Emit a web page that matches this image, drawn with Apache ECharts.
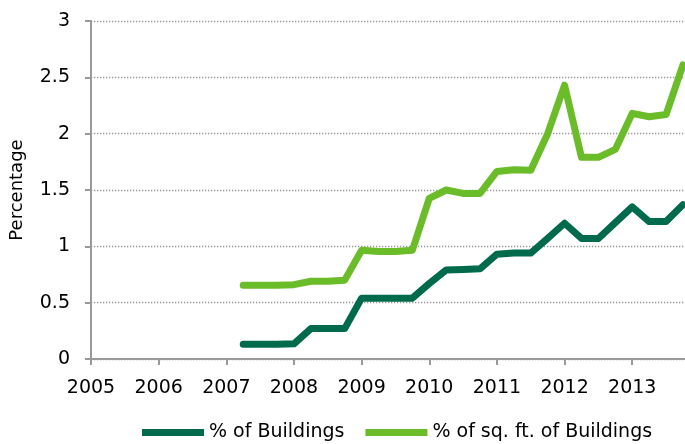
<!doctype html>
<html>
	<head>
		<meta charset="utf-8">
		<title>Buildings chart</title>
	</head>
	<body style="margin:0">
		<div id="container" style="height: 444px; width: 685px;"></div>

		<script src="https://cdn.jsdelivr.net/npm/echarts@6/dist/echarts.min.js"></script>

		<script>
			// quarters, as fractional years
			var quarters = [2007.25, 2007.5, 2007.75, 2008, 2008.25, 2008.5, 2008.75,
				2009, 2009.25, 2009.5, 2009.75, 2010, 2010.25, 2010.5, 2010.75,
				2011, 2011.25, 2011.5, 2011.75, 2012, 2012.25, 2012.5, 2012.75,
				2013, 2013.25, 2013.5, 2013.75];
			var pctBuildings = [0.13, 0.13, 0.13, 0.135, 0.27, 0.27, 0.27,
				0.54, 0.54, 0.54, 0.54, 0.67, 0.79, 0.795, 0.8,
				0.93, 0.94, 0.94, 1.07, 1.205, 1.07, 1.07, 1.21,
				1.35, 1.22, 1.22, 1.37];
			var pctSqft = [0.655, 0.655, 0.655, 0.66, 0.69, 0.69, 0.70,
				0.965, 0.955, 0.955, 0.965, 1.425, 1.50, 1.47, 1.47,
				1.665, 1.68, 1.675, 2.0, 2.43, 1.79, 1.79, 1.86,
				2.18, 2.15, 2.17, 2.61];
			var yearLabels = [2005, 2006, 2007, 2008, 2009, 2010, 2011, 2012, 2013];

			function pairs(xs, ys) {
				return xs.map(function (x, i) { return [x, ys[i]]; });
			}

			var font = 'DejaVu Sans';
			var dom = document.getElementById("container");
			var myChart = echarts.init(dom);

			var opts = {
				animation: false,
				grid: {
					left: 88,
					top: 21,
					right: 0,
					bottom: 85,
				},
				legend: {
					bottom: -3,
					left: 137,
					itemWidth: 62,
					itemHeight: 7,
					itemGap: 21,
					icon: 'rect',
					textStyle: { fontFamily: font, fontSize: 19, color: '#000' },
					data: ['% of Buildings', '% of sq. ft. of Buildings']
				},
				xAxis: {
					type: 'value',
					min: 2005,
					max: 2013.78,
					splitLine: { show: false },
					axisLine: { lineStyle: { color: '#999', width: 2 } },
					axisTick: {
						length: 6,
						customValues: yearLabels,
						lineStyle: { color: '#999', width: 2 }
					},
					axisLabel: {
						customValues: yearLabels,
						formatter: function (v) { return String(v); },
						margin: 20,
						fontFamily: font,
						fontSize: 19,
						color: '#000'
					}
				},
				yAxis: {
					type: 'value',
					min: 0,
					max: 3,
					interval: 0.5,
					name: 'Percentage',
					nameLocation: 'middle',
					nameGap: 65,
					nameTextStyle: { fontFamily: font, fontSize: 18, color: '#000' },
					axisLine: { show: true, lineStyle: { color: '#999', width: 2 } },
					axisTick: { show: true, length: 6, lineStyle: { color: '#999', width: 2 } },
					axisLabel: {
						margin: 21,
						fontFamily: font,
						fontSize: 19,
						color: '#000'
					},
					splitLine: { lineStyle: { color: '#999', width: 1.3, type: [1.3, 1.7] } }
				},
				series: [
					{
						name: '% of Buildings',
						type: 'line',
						showSymbol: false,
						color: '#006b4c',
						lineStyle: { width: 7, cap: 'round', join: 'round' },
						data: pairs(quarters, pctBuildings)
					},
					{
						name: '% of sq. ft. of Buildings',
						type: 'line',
						showSymbol: false,
						color: '#6abd29',
						lineStyle: { width: 7, cap: 'round', join: 'round' },
						data: pairs(quarters, pctSqft)
					}
				]
			};

			myChart.setOption(opts, true);
		</script>
	</body>
</html>
